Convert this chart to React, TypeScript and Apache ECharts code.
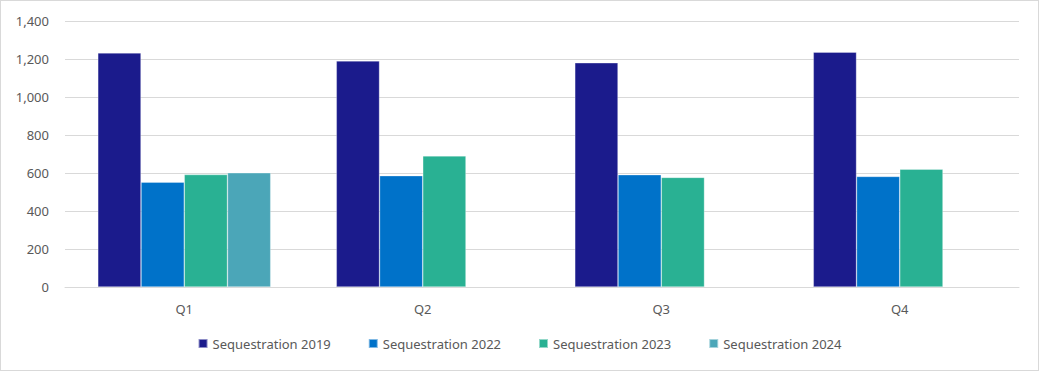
import React, { useEffect, useRef } from "react";
import * as echarts from "echarts";

const categories = ["Q1", "Q2", "Q3", "Q4"];
const seriesNames = ["Sequestration 2019", "Sequestration 2022", "Sequestration 2023", "Sequestration 2024"];
const seq2019 = [1232, 1190, 1180, 1236];
const seq2022 = [552, 586, 591, 582];
const seq2023 = [592, 690, 577, 620];
const seq2024: (number | null)[] = [601, null, null, null];
const colors = ["#1b1b8c", "#0072c9", "#29b193", "#4ba6b8"];

export default function App() {
  const ref = useRef<HTMLDivElement>(null);
  useEffect(() => {
    if (!ref.current) return;
    const chart = echarts.init(ref.current, null, { renderer: "svg" });
    const data = [seq2019, seq2022, seq2023, seq2024];
    const font = "'Noto Sans', 'Open Sans', sans-serif";
    chart.setOption({
      animation: false,
      color: colors,
      textStyle: { fontFamily: font },
      grid: { left: 64, right: 19, top: 20, bottom: 83, containLabel: false },
      legend: {
        bottom: 15,
        left: "center",
        itemWidth: 9,
        itemHeight: 9,
        itemGap: 37,
        icon: "rect",
        textStyle: { color: "#595959", fontSize: 13, fontFamily: font },
        data: seriesNames,
      },
      xAxis: {
        type: "category",
        data: categories,
        axisLine: { show: true, lineStyle: { color: "#d9d9d9", width: 1 } },
        axisTick: { show: false },
        axisLabel: { color: "#595959", fontSize: 13, margin: 15, fontFamily: font },
      },
      yAxis: {
        type: "value",
        min: 0,
        max: 1400,
        interval: 200,
        axisLine: { show: false },
        axisTick: { show: false },
        axisLabel: {
          color: "#595959",
          fontSize: 13,
          margin: 16,
          fontFamily: font,
          formatter: (v: number) => v.toLocaleString("en-US"),
        },
        splitLine: { lineStyle: { color: "#d9d9d9", width: 1 } },
      },
      series: seriesNames.map((name, i) => ({
        name,
        type: "bar",
        data: data[i],
        barGap: "0%",
        barCategoryGap: "27.5%",
        itemStyle: { color: colors[i], borderColor: "rgba(255,255,255,0.5)", borderWidth: 0.6 },
      })),
    });
    return () => chart.dispose();
  }, []);
  return (
    <div
      ref={ref}
      style={{
        position: "absolute",
        left: 0,
        top: 0,
        width: 1039,
        height: 371,
        boxSizing: "border-box",
        border: "1px solid #d9d9d9",
        background: "#fff",
      }}
    />
  );
}
